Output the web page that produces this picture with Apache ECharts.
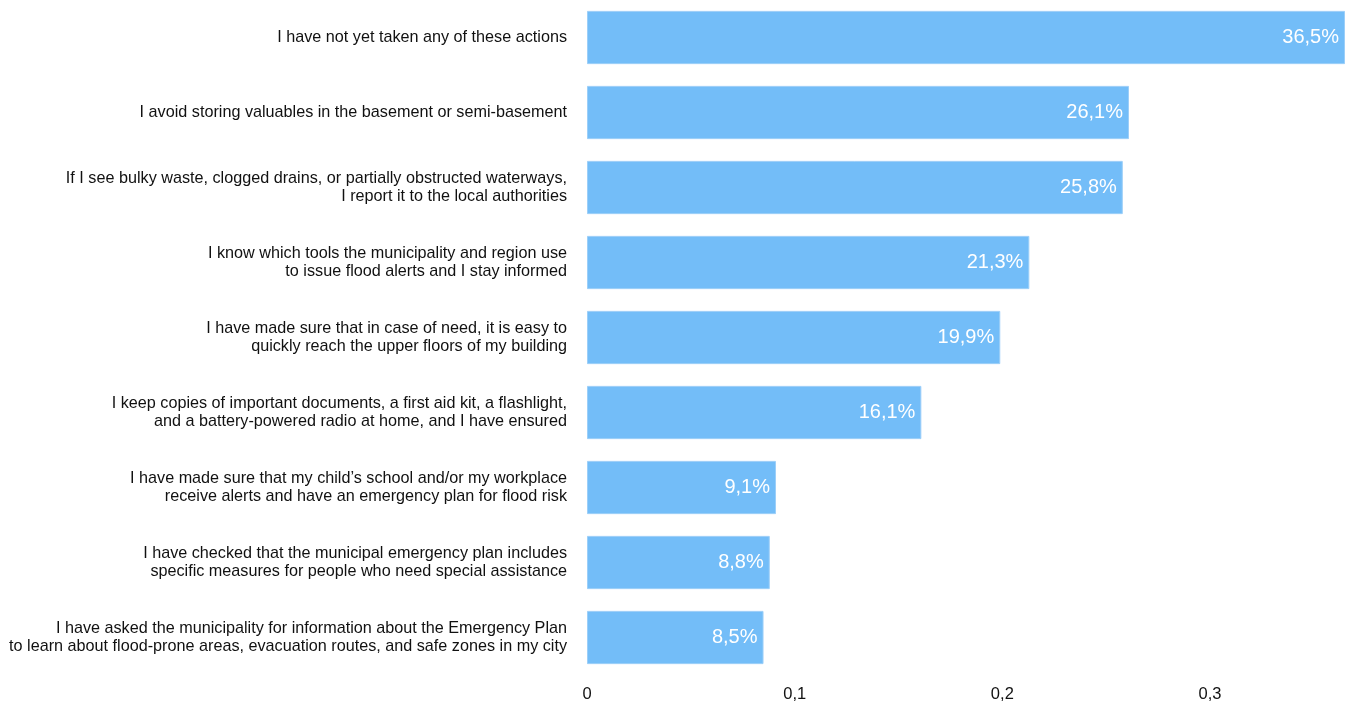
<!DOCTYPE html>
<html>
<head>
<meta charset="utf-8">
<script src="https://cdn.jsdelivr.net/npm/echarts@6/dist/echarts.min.js"></script>
<style>
  html, body { margin: 0; padding: 0; background: #fff; }
  #chart { width: 1355px; height: 709px; }
</style>
</head>
<body>
<div id="chart"></div>
<script>
var categories = [
  'I have not yet taken any of these actions',
  'I avoid storing valuables in the basement or semi-basement',
  'If I see bulky waste, clogged drains, or partially obstructed waterways,\nI report it to the local authorities',
  'I know which tools the municipality and region use\nto issue flood alerts and I stay informed',
  'I have made sure that in case of need, it is easy to\nquickly reach the upper floors of my building',
  'I keep copies of important documents, a first aid kit, a flashlight,\nand a battery-powered radio at home, and I have ensured',
  'I have made sure that my child\u2019s school and/or my workplace\nreceive alerts and have an emergency plan for flood risk',
  'I have checked that the municipal emergency plan includes\nspecific measures for people who need special assistance',
  'I have asked the municipality for information about the Emergency Plan\nto learn about flood-prone areas, evacuation routes, and safe zones in my city'
];
var values = [0.365, 0.261, 0.258, 0.213, 0.199, 0.161, 0.091, 0.088, 0.085];

var chart = echarts.init(document.getElementById('chart'));
chart.setOption({
  animation: false,
  grid: { left: 587, right: 10, top: 0, bottom: 34, containLabel: false },
  xAxis: {
    type: 'value',
    min: 0,
    max: 'dataMax',
    interval: 0.1,
    axisLine: { show: false },
    axisTick: { show: false },
    splitLine: { show: false },
    axisLabel: {
      showMaxLabel: false,
      margin: 11,
      color: '#111',
      fontSize: 16.5,
      fontFamily: 'Liberation Sans, Arial, sans-serif',
      formatter: function (v) { return String(Math.round(v * 10) / 10).replace('.', ','); }
    }
  },
  yAxis: {
    type: 'category',
    inverse: true,
    data: categories,
    axisLine: { show: false },
    axisTick: { show: false },
    axisLabel: {
      margin: 20,
      color: '#111',
      fontSize: 16.2,
      lineHeight: 18,
      padding: [4, 0, 0, 0],
      align: 'right',
      fontFamily: 'Liberation Sans, Arial, sans-serif'
    }
  },
  series: [{
    type: 'bar',
    data: values,
    barCategoryGap: '29%',
    itemStyle: { color: '#73bdf8', borderColor: '#9ccff9', borderWidth: 1 },
    label: {
      show: true,
      position: 'insideRight',
      distance: 6,
      color: '#fff',
      fontSize: 20,
      fontFamily: 'Liberation Sans, Arial, sans-serif',
      formatter: function (p) { return (p.value * 100).toFixed(1).replace('.', ',') + '%'; }
    }
  }]
});
</script>
</body>
</html>
